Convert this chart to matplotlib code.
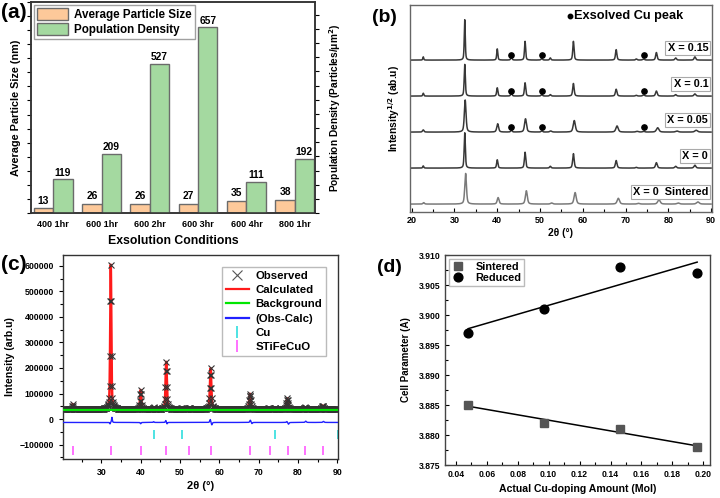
import numpy as np
import matplotlib
matplotlib.use("Agg")
import matplotlib.pyplot as plt
from matplotlib.patches import Patch
from matplotlib.lines import Line2D
from matplotlib.ticker import MultipleLocator, FormatStrFormatter

plt.rcParams['font.family'] = ['Liberation Sans', 'DejaVu Sans']
plt.rcParams['font.weight'] = 'bold'
plt.rcParams['axes.labelweight'] = 'bold'
plt.rcParams['mathtext.default'] = 'bf'

# (a) exsolution conditions
conditions = ['400 1hr', '600 1hr', '600 2hr', '600 3hr', '600 4hr', '800 1hr']
particle_size = [13, 26, 26, 27, 35, 38]
pop_density = [119, 209, 527, 657, 111, 192]

# (b) XRD patterns, peak list (2theta, sqrt intensity)
b_labels = ['X = 0.15', 'X = 0.1', 'X = 0.05', 'X = 0', 'X = 0  Sintered']
b_pos = [[22.7, 32.4, 40.0, 46.5, 52.4, 57.8, 67.8, 72.5, 77.2, 81.7, 86.2],
         [22.7, 32.4, 40.0, 46.5, 52.4, 57.8, 67.8, 72.5, 77.2, 81.7, 86.2],
         [22.7, 32.5, 40.1, 46.6, 52.5, 58.0, 68.0, 72.7, 77.5, 82.0, 86.5],
         [22.7, 32.4, 40.0, 46.5, 52.4, 57.8, 67.8, 72.5, 77.2, 81.7, 86.2],
         [22.8, 32.6, 40.2, 46.8, 52.7, 58.2, 68.3, 73.0, 77.8, 82.3, 86.9]]
b_height = [[0.09, 1.12, 0.31, 0.52, 0.06, 0.52, 0.29, 0.03, 0.21, 0.06, 0.09],
            [0.08, 0.88, 0.23, 0.37, 0.04, 0.35, 0.19, 0.02, 0.14, 0.04, 0.06],
            [0.06, 0.89, 0.23, 0.37, 0.03, 0.32, 0.17, 0.02, 0.12, 0.03, 0.05],
            [0.06, 0.98, 0.23, 0.44, 0.05, 0.40, 0.21, 0.02, 0.15, 0.05, 0.08],
            [0.04, 0.85, 0.18, 0.37, 0.03, 0.32, 0.16, 0.02, 0.12, 0.03, 0.06]]
b_fwhm = [0.24, 0.27, 0.4, 0.28, 0.4]
cu_pos = [43.3, 50.4, 74.2]
cu_height = [[0.07, 0.04, 0.03], [0.08, 0.04, 0.03], [0.05, 0.03, 0.02],
             [0, 0, 0], [0, 0, 0]]
b_colors = ['#383838', '#383838', '#383838', '#383838', '#7a7a7a']

# (c) Rietveld refinement
c_pos = [22.7, 32.4, 40.0, 43.3, 46.5, 50.4, 52.4, 57.8, 67.8, 72.6, 74.2, 77.3, 81.8, 86.3]
c_height = [20000, 565000, 75000, 6000, 185000, 4000, 6000, 160000, 60000, 4000, 3000, 42000, 7000, 14000]
c_background = 36000
diff_pos = [32.2, 32.7, 40.0, 43.3, 46.4, 46.7, 57.7, 58.1, 67.9, 68.3, 77.2, 77.6, 82.0, 86.5]
diff_amp = [-6000, 20000, -5000, 3000, 8000, -6000, 12000, -10000, 9000, -5000, 4000, -7000, 5000, 4000]
diff_offset = -13000
cu_ticks = [43.3, 50.5, 74.3, 90.1]
phase_ticks = [22.7, 32.4, 40.0, 46.5, 52.4, 57.8, 67.9, 72.8, 77.4, 81.9, 86.5]

# (d) cell parameter
cu_amount = [0.048, 0.097, 0.146, 0.196]
sintered = [3.885, 3.882, 3.881, 3.878]
reduced = [3.897, 3.901, 3.908, 3.907]


def pv(x, centres, heights, fwhm):
    y = np.zeros_like(x)
    for c, h in zip(centres, heights):
        w = fwhm * (1 + (c - 20) / 80.0)
        d = (x - c) / w
        y += h * (0.5 * np.exp(-4 * np.log(2) * d ** 2) + 0.5 / (1 + 4 * d ** 2))
    return y


fig = plt.figure(figsize=(7.2, 4.98), dpi=100)

# ---------------- (a)
ax = fig.add_axes([31 / 720, 1 - 213 / 498, 284 / 720, 211 / 498])
ax2 = ax.twinx()
idx = np.arange(len(conditions))
ax.bar(idx - 0.2, particle_size, 0.4, color='#fdc99a', edgecolor='#6b6b6b', lw=1.0, zorder=2)
ax2.bar(idx + 0.2, pop_density, 0.4, color='#a4d9a0', edgecolor='#6b6b6b', lw=1.0, zorder=2)
ax.set_ylim(0, 600)
ax2.set_ylim(0, 745)
ax.set_xlim(-0.46, 5.42)
for i in idx:
    ax.text(i - 0.2, particle_size[i] + 8, str(particle_size[i]), ha='center', va='bottom', fontsize=7.4)
    ax2.text(i + 0.2, pop_density[i] + 5, str(pop_density[i]), ha='center', va='bottom', fontsize=7.4)
ax.yaxis.set_major_locator(MultipleLocator(40))
ax2.yaxis.set_major_locator(MultipleLocator(50))
ax.tick_params(axis='y', labelleft=False, length=3, width=0.8)
ax2.tick_params(axis='y', labelright=False, length=3, width=0.8)
ax.set_xticks(idx)
ax.set_xticklabels(conditions, fontsize=6.5)
ax.tick_params(axis='x', length=0, pad=5)
ax.set_xlabel('Exsolution Conditions', fontsize=8.8, labelpad=4)
ax.set_ylabel('Average Particle Size (nm)', fontsize=7.8, labelpad=4)
ax2.set_ylabel('Population Density (Particles/μm$^2$)', fontsize=7.3, labelpad=6)
for a in (ax, ax2):
    for s in a.spines.values():
        s.set_linewidth(1.1)
        s.set_color('#333333')
ax.legend(handles=[Patch(facecolor='#fdc99a', edgecolor='#6b6b6b', label='Average Particle Size'),
                   Patch(facecolor='#a4d9a0', edgecolor='#6b6b6b', label='Population Density')],
          loc='upper left', bbox_to_anchor=(0.0, 1.0), fontsize=8.4, frameon=True, fancybox=False,
          edgecolor='#888888', handlelength=2.6, handleheight=1.1, borderpad=0.3, labelspacing=0.2,
          handletextpad=0.5, borderaxespad=0.25)
fig.text(1 / 720, 1 - 13 / 498, '(a)', fontsize=15, va='center', ha='left')

# ---------------- (b)
bx = fig.add_axes([410 / 720, 1 - 212 / 498, 302 / 720, 207 / 498])
x = np.arange(19.5, 90.0, 0.02)
for k in range(5):
    base = 4 - k
    y = base + pv(x, b_pos[k], b_height[k], b_fwhm[k]) + pv(x, cu_pos, cu_height[k], 0.3)
    bx.plot(x, y, color=b_colors[k], lw=1.1)
    if k < 3:
        bx.plot(cu_pos, [base + 0.15] * 3, 'o', color='black', ms=3.8)
    bx.text(89.3, base + 0.34, b_labels[k], ha='right', va='center', fontsize=7.8,
            bbox=dict(boxstyle='square,pad=0.2', fc='white', ec='#aaaaaa', lw=0.8))
bx.plot([57.0], [5.22], 'o', color='black', ms=3.2)
bx.text(58.0, 5.22, 'Exsolved Cu peak', ha='left', va='center', fontsize=9.2)
bx.set_xlim(19.6, 90.2)
bx.set_ylim(-0.22, 5.53)
bx.set_yticks([])
bx.xaxis.set_major_locator(MultipleLocator(10))
bx.xaxis.set_minor_locator(MultipleLocator(5))
bx.tick_params(axis='x', which='both', direction='in', labelsize=6.5, length=3, width=0.8, pad=3)
bx.tick_params(axis='x', which='minor', length=2)
bx.set_xlabel('2θ (°)', fontsize=7.4, labelpad=2)
bx.set_ylabel('Intensity$^{1/2}$ (ab.u)', fontsize=7.4, labelpad=6)
for s in bx.spines.values():
    s.set_color('#666666')
    s.set_linewidth(1.0)
fig.text(372 / 720, 1 - 17 / 498, '(b)', fontsize=14, va='center', ha='left')

# ---------------- (c)
cx = fig.add_axes([63 / 720, 1 - 459 / 498, 275 / 720, 204 / 498])
xc = np.arange(20.3, 90.2, 0.02)
calc = c_background + 3000 + pv(xc, c_pos, c_height, 0.28)
xo = np.arange(20.3, 90.2, 0.1)
obs = c_background + 3000 + pv(xo, c_pos, c_height, 0.28)
diff = diff_offset + pv(xc, diff_pos, diff_amp, 0.2)
cx.plot(xc, calc, color='#ff1a1a', lw=1.8, zorder=2)
cx.plot(xo, obs, 'x', color='#333333', ms=4.2, mew=0.8, zorder=3)
cx.plot(xc, np.full_like(xc, c_background), color='#00e600', lw=1.5, zorder=4)
cx.plot(xc, diff, color='#2020ff', lw=1.0, zorder=4)
cx.vlines(cu_ticks, -78000, -44000, color='#40e0e0', lw=1.3)
cx.vlines(phase_ticks, -140000, -107000, color='#ff66ff', lw=1.3)
cx.set_xlim(20.25, 90.2)
cx.set_ylim(-156000, 642000)
cx.yaxis.set_major_locator(MultipleLocator(100000))
cx.yaxis.set_minor_locator(MultipleLocator(50000))
cx.xaxis.set_minor_locator(MultipleLocator(5))
cx.set_xticks([30, 40, 50, 60, 70, 80, 90])
cx.tick_params(which='both', direction='out', labelsize=6.3, length=3, width=0.8)
cx.tick_params(which='minor', length=2)
cx.set_xlabel('2θ (°)', fontsize=8, labelpad=3)
cx.set_ylabel('Intensity (arb.u)', fontsize=7.6, labelpad=3)
for s in cx.spines.values():
    s.set_linewidth(1.0)
    s.set_color('#333333')
handles = [Line2D([], [], ls='none', marker='x', color='#555555', ms=7, mew=0.8, label='Observed'),
           Line2D([], [], color='#ff1a1a', lw=1.6, label='Calculated'),
           Line2D([], [], color='#00e600', lw=1.6, label='Background'),
           Line2D([], [], color='#2020ff', lw=1.6, label='(Obs-Calc)'),
           Line2D([], [], ls='none', marker='|', color='#40e0e0', ms=8, mew=1.3, label='Cu'),
           Line2D([], [], ls='none', marker='|', color='#ff66ff', ms=8, mew=1.3, label='STiFeCuO')]
cx.legend(handles=handles, loc='upper right', bbox_to_anchor=(0.955, 0.94), fontsize=8.2,
          frameon=True, fancybox=False, edgecolor='#aaaaaa', handlelength=2.0, borderpad=0.3,
          labelspacing=0.38, handletextpad=0.6, borderaxespad=0)
fig.text(1 / 720, 1 - 265 / 498, '(c)', fontsize=15, va='center', ha='left')

# ---------------- (d)
dx = fig.add_axes([445 / 720, 1 - 465 / 498, 265 / 720, 210 / 498])
xs = np.array([0.048, 0.196])
for vals in (sintered, reduced):
    m, b0 = np.polyfit(cu_amount, vals, 1)
    dx.plot(xs, m * xs + b0, color='black', lw=1.1, zorder=2)
dx.plot(cu_amount, sintered, 's', color='#555555', ms=5.8, label='Sintered', zorder=3)
dx.plot(cu_amount, reduced, 'o', color='black', ms=6.3, label='Reduced', zorder=3)
dx.set_xlim(0.033, 0.2043)
dx.set_ylim(3.875, 3.910)
dx.xaxis.set_major_locator(MultipleLocator(0.02))
dx.xaxis.set_minor_locator(MultipleLocator(0.01))
dx.yaxis.set_major_locator(MultipleLocator(0.005))
dx.yaxis.set_minor_locator(MultipleLocator(0.0025))
dx.xaxis.set_major_formatter(FormatStrFormatter('%.2f'))
dx.yaxis.set_major_formatter(FormatStrFormatter('%.3f'))
dx.tick_params(which='both', direction='in', labelsize=6.2, length=3, width=0.8)
dx.tick_params(which='minor', length=2)
dx.set_xlabel('Actual Cu-doping Amount (Mol)', fontsize=7.6, labelpad=4)
dx.set_ylabel('Cell Parameter (A)', fontsize=7, labelpad=5)
for s in dx.spines.values():
    s.set_linewidth(1.0)
    s.set_color('#444444')
dx.legend(loc='upper left', fontsize=7.8, frameon=True, fancybox=False, edgecolor='#aaaaaa',
          handlelength=1.2, borderpad=0.25, labelspacing=0.15, handletextpad=1.0,
          borderaxespad=0.35)
fig.text(377 / 720, 1 - 267 / 498, '(d)', fontsize=14, va='center', ha='left')

fig.savefig('out.png', dpi=100)
